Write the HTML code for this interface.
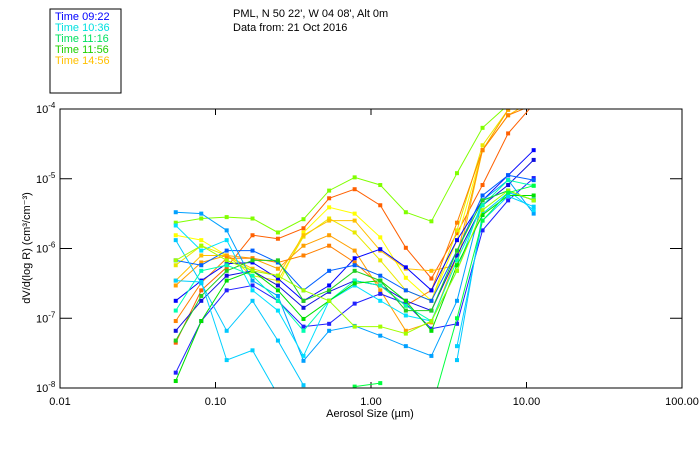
<!DOCTYPE html>
<html><head><meta charset="utf-8">
<style>
html,body{margin:0;padding:0;background:#fff;}
svg{display:block;font-family:"Liberation Sans",sans-serif;}
</style></head>
<body>
<svg id="chart" width="700" height="450" viewBox="0 0 700 450" xmlns="http://www.w3.org/2000/svg">
  <rect x="50" y="9" width="71" height="84" fill="#fff" stroke="#000" stroke-width="1"/>
  <g id="legend" font-size="11"></g>
  <text x="233" y="17" font-size="11">PML, N 50 22', W 04 08', Alt 0m</text>
  <text x="233" y="31" font-size="11">Data from: 21 Oct 2016</text>
  <g id="axes"></g>
  <clipPath id="clip"><rect x="60" y="109" width="622" height="279"/></clipPath>
  <g id="series" clip-path="url(#clip)"></g>
  <rect x="60" y="109" width="622" height="279" fill="none" stroke="#000" stroke-width="1"/>
  <text x="370" y="417" font-size="11" text-anchor="middle">Aerosol Size (µm)</text>
  <text transform="translate(30,248) rotate(-90)" font-size="11" text-anchor="middle">dV/d(log R) (cm³/cm⁻³)</text>
</svg>
<script>
const legendLabels = ["Time 09:22","Time 10:36","Time 11:16","Time 11:56","Time 14:56"];
const legendColors = ["#0000ff","#00e0e0","#00e060","#20d000","#ffc000"];
const xTickValues = [0.01,0.1,1,10,100];
const xTickLabels = ["0.01","0.10","1.00","10.00","100.00"];
const yTickExps = [-4,-5,-6,-7,-8];
const sizes = [0.0555,0.081,0.118,0.173,0.252,0.368,0.538,0.785,1.147,1.675,2.446,3.572,5.216,7.617,11.12];
const seriesColors = ["#80ff00","#ff6000","#ffff00","#e8e800","#ffc000","#ffa000","#ff8000","#0000ff","#1010e0","#2020ff","#0060ff","#00a0ff","#00e0ff","#00c8ff","#00ffb0","#00e000","#20d020","#a0ff00","#00d0ff","#00ff40"];
// log10 of dV/d(log R)
const seriesLog = [
 [-5.63,-5.57,-5.55,-5.57,-5.77,-5.58,-5.17,-4.98,-5.09,-5.48,-5.61,-4.92,-4.27,-3.94,-3.73],
 [-7.35,-6.6,-6.27,-5.81,-5.86,-5.71,-5.28,-5.15,-5.38,-5.99,-6.43,-5.78,-5.09,-4.35,-3.93],
 [-5.81,-5.88,-6.1,-6.32,-6.53,-5.77,-5.41,-5.5,-5.84,-6.42,-6.75,-5.88,-4.59,-4.01,-3.8],
 [-6.24,-5.96,-6.1,-6.39,-6.46,-5.83,-5.57,-5.77,-6.17,-6.6,-6.75,-5.74,-4.52,-4.01,-3.8],
 [-6.46,-6.1,-6.1,-6.29,-6.39,-5.81,-5.6,-5.6,-6.03,-6.29,-6.32,-6.24,-4.59,-4.09,-3.87],
 [-6.53,-6.2,-6.1,-6.14,-6.29,-5.96,-5.81,-6.03,-6.6,-7.18,-7.06,-6.1,-4.59,-4.01,-3.87],
 [-7.04,-6.49,-6.14,-6.14,-6.2,-6.1,-5.96,-6.2,-6.53,-6.82,-6.6,-5.63,-4.59,-4.09,-3.94],
 [-6.75,-6.46,-6.22,-6.2,-6.43,-6.75,-6.53,-6.14,-6.01,-6.27,-6.6,-5.88,-5.31,-4.95,-4.59],
 [-7.18,-6.75,-6.39,-6.32,-6.53,-6.85,-6.62,-6.46,-6.53,-6.75,-6.89,-6.1,-5.38,-5.09,-4.73],
 [-7.78,-7.04,-6.6,-6.53,-6.75,-7.12,-7.08,-6.79,-6.65,-6.79,-7.15,-7.08,-5.74,-5.31,-4.99],
 [-6.17,-6.24,-6.03,-6.03,-6.2,-6.6,-6.32,-6.24,-6.39,-6.6,-6.75,-6.03,-5.24,-4.95,-5.02],
 [-5.48,-5.5,-5.74,-6.46,-6.68,-7.61,-7.18,-7.11,-7.25,-7.4,-7.54,-6.75,-5.31,-5.02,-5.5],
 [-5.67,-6.03,-5.88,-6.6,-6.89,-7.54,-6.75,-6.53,-6.75,-6.96,-7.04,-6.32,-5.31,-5.17,-5.45],
 [-5.88,-6.5,-7.18,-6.75,-7.32,-7.96,null,null,null,null,null,-7.6,-5.5,-5.2,-5.3],
 [-6.89,-6.32,-6.24,-6.39,-6.75,-7.18,-6.75,-6.46,-6.53,-6.82,-7.04,-6.17,-5.38,-5.02,-5.1],
 [-7.9,-7.04,-6.46,-6.32,-6.6,-7.01,-6.75,-6.5,-6.46,-6.75,-7.18,-6.24,-5.52,-5.24,-5.24],
 [-7.32,-6.68,-6.32,-6.17,-6.17,-6.75,-6.6,-6.32,-6.46,-6.89,-6.89,-6.03,-5.31,-5.17,-5.31],
 [-6.17,-5.96,-6.17,-6.32,-6.39,-6.6,-6.75,-7.12,-7.12,-7.22,-7.04,-6.32,-5.45,-5.17,-5.31],
 [-6.46,-6.48,-7.6,-7.46,-8.1,null,null,null,null,null,null,-7.4,-5.6,-5.25,-5.4],
 [null,null,null,null,null,null,null,-7.98,-7.93,null,-8.3,-7.0,-5.6,-5.2,-5.1]
];
const NS="http://www.w3.org/2000/svg";
const X0=60,X1=682,Y0=109,Y1=388;
function xScale(v){return X0+(Math.log10(v)+2)/4*(X1-X0);}
function yScale(l){return Y0+(-4-l)/4*(Y1-Y0);}
function mk(tag,attrs,parent){const e=document.createElementNS(NS,tag);for(const k in attrs)e.setAttribute(k,attrs[k]);parent.appendChild(e);return e;}
const axes=document.getElementById('axes');
xTickValues.forEach((v,i)=>{
  const x=xScale(v);
  const t=mk('line',{x1:x,x2:x,y1:Y1,y2:Y1-6,stroke:'#000'},axes);
  
  
  const t2=mk('line',{x1:x,x2:x,y1:Y0,y2:Y0+6,stroke:'#000'},axes);
  
  
  const lb=mk('text',{x:x,y:Y1+17,'font-size':11,'text-anchor':'middle'},axes);
  lb.textContent=xTickLabels[i];
  
  
});
yTickExps.forEach(e=>{
  const y=yScale(e);
  const t=mk('line',{x1:X0,x2:X0+12,y1:y,y2:y,stroke:'#000'},axes);
  
  
  const t2=mk('line',{x1:X1,x2:X1-12,y1:y,y2:y,stroke:'#000'},axes);
  
  
  const lb=mk('text',{x:36,y:y+4,'font-size':11},axes);
  lb.innerHTML='10<tspan dy="-5" font-size="8">'+e+'</tspan>';
  
  
});
const lg=document.getElementById('legend');
legendLabels.forEach((s,i)=>{
  const t=mk('text',{x:55,y:20+i*11,fill:legendColors[i]},lg);
  t.textContent=s;
  
  
});
const sg=document.getElementById('series');
seriesLog.forEach((arr,si)=>{
  const col=seriesColors[si%seriesColors.length];
  const g=mk('g',{},sg);
  
  
  let seg=[];
  const flush=()=>{if(seg.length>1){mk('polyline',{points:seg.join(' '),fill:'none',stroke:col,'stroke-width':1},g);}seg=[];};
  arr.forEach((v,i)=>{
    if(v===null){flush();return;}
    const x=xScale(sizes[i]),y=yScale(v);
    seg.push(x.toFixed(1)+','+y.toFixed(1));
    const p=mk('rect',{x:x-2,y:y-2,width:4,height:4,fill:col},g);
    
    
  });
  flush();
});
</script>
</body></html>
